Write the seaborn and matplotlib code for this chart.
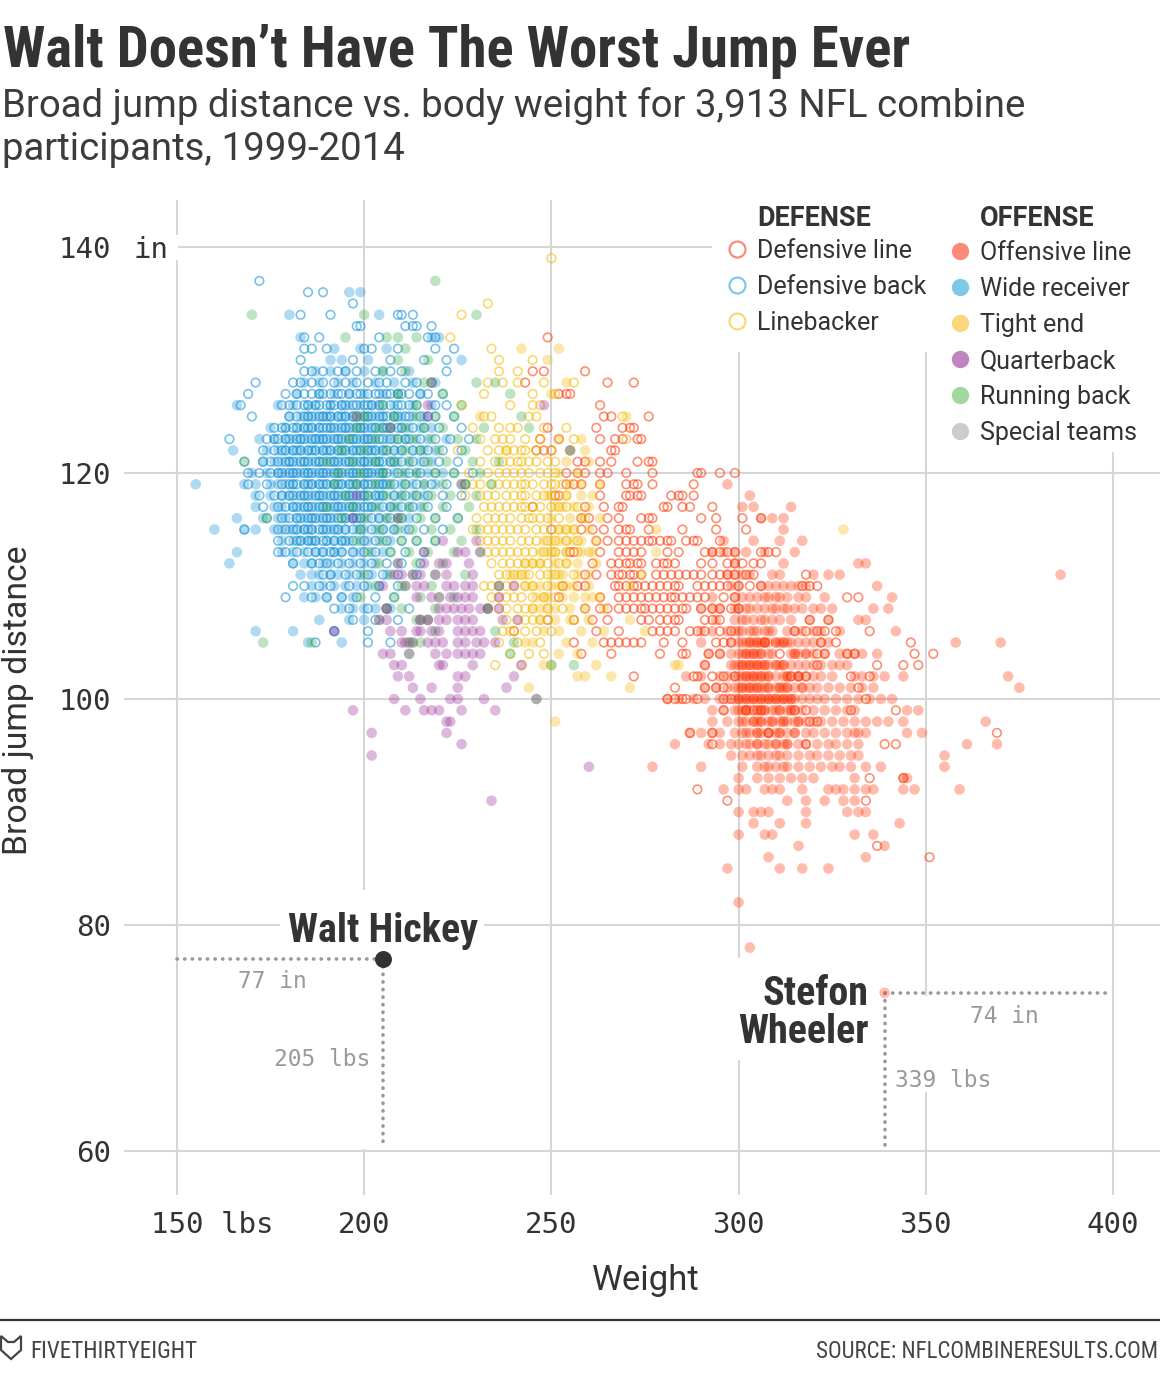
import matplotlib
matplotlib.use("Agg")
import matplotlib.pyplot as plt
import matplotlib.transforms as mtransforms
from matplotlib import font_manager
from matplotlib.lines import Line2D
from matplotlib.patches import Rectangle, Polygon
import pandas as pd
import seaborn as sns

# ---- data: broad jump (in) -> list of body weights (lbs) ----
defensive_back = {
    137: [172], 136: [185, 189], 135: [197], 134: [183, 191, 209, 210, 213],
    133: [198, 199, 211, 213, 214, 218], 132: [184, 188, 204, 217, 219],
    131: [184, 186, 190, 200, 202, 209, 219, 224], 130: [183, 197, 207, 216, 222],
    129: [184, 186, 189, 193, 195, 198, 203, 207, 210, 222],
    128: [171, 181, 183, 186, 189, 192, 195, 198, 201, 204, 206, 211, 214, 218],
    127: [169, 179, 182, 184, 186, 188, 189, 191, 193, 194, 196, 198, 199, 201, 203, 204, 206, 207, 209, 210, 212, 215, 217, 221],
    126: [167, 178, 180, 182, 184, 185, 187, 188, 190, 191, 192, 194, 195, 197, 198, 200, 201, 202, 204, 205, 207, 209, 210, 212, 214, 219, 222],
    125: [170, 180, 182, 184, 185, 186, 188, 189, 190, 191, 193, 194, 195, 197, 198, 200, 201, 202, 204, 205, 206, 208, 209, 211, 212, 215, 217, 219, 224],
    124: [176, 178, 179, 181, 182, 184, 185, 186, 188, 189, 190, 191, 192, 194, 195, 196, 198, 199, 200, 202, 203, 205, 206, 207, 209, 210, 213, 216, 220, 226],
    123: [164, 174, 176, 177, 179, 180, 182, 183, 184, 186, 187, 188, 189, 190, 192, 193, 194, 196, 197, 198, 200, 201, 202, 204, 205, 207, 209, 211, 212, 215, 219, 223, 228],
    122: [173, 176, 178, 179, 181, 182, 183, 185, 186, 187, 189, 190, 191, 193, 194, 195, 197, 198, 199, 201, 202, 203, 205, 206, 208, 210, 213, 215, 217, 221, 226],
    121: [168, 173, 175, 177, 179, 180, 181, 183, 184, 185, 187, 188, 189, 191, 192, 193, 195, 196, 197, 199, 200, 201, 203, 204, 205, 207, 208, 210, 213, 216, 220, 225],
    120: [169, 172, 175, 177, 178, 180, 181, 182, 184, 185, 186, 188, 189, 190, 192, 193, 194, 196, 197, 198, 200, 201, 202, 204, 205, 206, 209, 212, 215, 219, 224, 229],
    119: [169, 174, 178, 180, 181, 182, 184, 185, 186, 188, 189, 190, 192, 193, 194, 196, 197, 198, 200, 201, 202, 204, 205, 206, 208, 211, 214, 218, 222, 227],
    118: [172, 176, 178, 180, 181, 183, 184, 185, 187, 188, 189, 191, 192, 193, 195, 196, 197, 199, 200, 201, 203, 204, 205, 208, 211, 214, 217, 221, 226],
    117: [173, 177, 179, 181, 182, 184, 185, 186, 188, 189, 190, 192, 193, 194, 196, 197, 198, 200, 201, 202, 205, 207, 210, 213, 217, 222],
    116: [174, 178, 180, 182, 183, 185, 186, 187, 189, 190, 191, 193, 194, 195, 197, 198, 199, 202, 204, 207, 210, 214, 219, 225],
    115: [168, 177, 179, 181, 182, 184, 185, 186, 188, 189, 190, 192, 193, 195, 197, 199, 202, 205, 208, 212, 216, 221],
    114: [177, 180, 182, 183, 185, 186, 187, 189, 190, 192, 194, 195, 197, 200, 203, 206, 210, 214, 219],
    113: [177, 179, 182, 185, 187, 189, 191, 192, 194, 197, 200, 203, 207, 211, 216],
    112: [181, 186, 188, 190, 193, 196, 199, 202, 206, 210, 215],
    111: [189, 191, 195, 198, 201, 205, 209, 214], 110: [181, 184, 188, 191, 196, 200, 204, 209],
    109: [179, 186, 190, 194, 198, 203, 208], 108: [192, 196, 201, 206, 212],
    107: [197, 203, 209], 106: [192, 201], 105: [187, 201, 207],
}
wide_receiver = {
    136: [196, 199], 134: [180, 204], 132: [183, 218, 220], 131: [192, 199, 206],
    130: [191, 194, 201, 226], 129: [187, 191, 195, 200, 205, 212],
    128: [184, 188, 193, 197, 203, 208, 213, 219], 127: [182, 188, 192, 196, 200, 205, 209, 215],
    126: [166, 177, 181, 185, 187, 191, 194, 196, 199, 202, 204, 208, 213, 218],
    125: [180, 183, 185, 187, 189, 191, 193, 195, 197, 199, 201, 203, 205, 208, 210, 213, 216],
    124: [175, 179, 182, 184, 186, 188, 191, 193, 195, 197, 199, 201, 203, 205, 207, 210, 212, 215, 218],
    123: [172, 176, 179, 181, 183, 185, 187, 189, 191, 193, 195, 197, 199, 201, 203, 206, 208, 211, 214, 217, 222],
    122: [165, 174, 177, 179, 181, 183, 185, 187, 189, 191, 193, 195, 197, 199, 201, 203, 205, 208, 210, 213, 216, 219],
    121: [173, 176, 178, 180, 182, 184, 186, 188, 190, 192, 194, 196, 198, 200, 202, 204, 207, 209, 212, 215, 218],
    120: [170, 174, 177, 179, 181, 183, 185, 187, 189, 191, 193, 195, 197, 199, 201, 203, 205, 208, 211, 214, 217, 221],
    119: [155, 168, 171, 175, 177, 179, 181, 184, 186, 188, 190, 192, 194, 196, 198, 200, 203, 205, 207, 210, 213, 216, 219],
    118: [171, 175, 178, 180, 182, 184, 186, 188, 190, 192, 194, 196, 198, 200, 203, 205, 208, 210, 213, 216],
    117: [171, 176, 178, 181, 183, 185, 187, 189, 191, 193, 195, 197, 199, 202, 204, 207, 209, 212, 215],
    116: [166, 173, 177, 179, 182, 184, 186, 188, 190, 192, 195, 197, 199, 201, 204, 206, 209, 212],
    115: [160, 168, 171, 176, 178, 180, 182, 184, 186, 189, 191, 193, 195, 198, 200, 203, 205, 208, 211],
    114: [178, 181, 183, 185, 187, 190, 192, 194, 196, 199, 201, 204, 207],
    113: [166, 178, 181, 184, 187, 189, 192, 194, 197, 199, 202, 205],
    112: [164, 181, 184, 186, 189, 191, 194, 197, 200, 203], 111: [183, 186, 188, 191, 193, 196, 199, 202, 206],
    110: [186, 189, 192, 195, 198, 201, 204], 109: [184, 187, 190, 194, 197], 108: [194, 197, 200, 203, 207],
    107: [188, 196, 200], 106: [171, 181, 192], 105: [185, 194],
}
running_back = {
    137: [219], 134: [170, 200, 230], 132: [195, 206, 209, 214], 131: [211], 130: [209, 217],
    129: [205, 211], 128: [216, 230, 235], 127: [209, 221, 239], 126: [205, 214, 226],
    125: [200, 208, 214, 219, 224, 242], 124: [198, 204, 211, 216, 221, 232, 244],
    123: [196, 203, 209, 213, 218, 225, 230], 122: [194, 200, 206, 211, 215, 220, 227],
    121: [168, 190, 197, 203, 208, 212, 217, 222, 229, 236],
    120: [193, 199, 205, 210, 214, 219, 224, 231],
    119: [192, 198, 203, 207, 211, 216, 221, 227, 234],
    118: [195, 201, 206, 210, 214, 218, 223, 230],
    117: [190, 197, 203, 208, 212, 216, 221, 228],
    116: [174, 194, 200, 206, 210, 215, 219, 225],
    115: [199, 204, 209, 213, 218, 223, 230], 114: [198, 205, 210, 214, 219, 226],
    113: [201, 207, 212, 217, 224], 112: [204, 209, 214, 221], 111: [200, 207, 213, 219, 227],
    110: [203, 210, 218], 109: [199, 208, 215, 224], 108: [210, 219, 233], 107: [204, 214],
    106: [219, 235], 105: [173, 186, 215, 240], 104: [239], 103: [250, 256],
}
quarterback = {
    126: [217, 248], 125: [217], 118: [198], 116: [197], 114: [221, 230],
    113: [216, 225, 227], 112: [209, 216, 220, 222, 228],
    111: [208, 210, 213, 215, 219, 222, 229], 110: [205, 214, 216, 222, 224, 227, 229, 240],
    109: [214, 218, 223, 225, 227, 229, 236], 108: [206, 220, 222, 224, 226, 228, 231, 233, 236],
    107: [204, 206, 215, 217, 220, 222, 225, 227, 229, 237, 241],
    106: [192, 207, 210, 214, 215, 218, 220, 225, 227, 229, 231],
    105: [210, 211, 217, 219, 221, 225, 227, 230, 232, 235],
    104: [205, 207, 219, 222, 225, 227, 229, 231], 103: [208, 210, 220, 221, 229, 242],
    102: [209, 212, 225, 227, 240], 101: [213, 218, 225, 238], 100: [208, 215, 223, 225, 232],
    99: [197, 211, 216, 218, 220, 226, 235], 98: [222, 223], 97: [202, 222], 96: [226],
    95: [202], 94: [260], 91: [234],
}
linebacker = {
    139: [250], 135: [233], 134: [226], 132: [223], 131: [234], 130: [236, 245],
    129: [236, 241], 128: [233, 237, 241, 248, 256], 127: [232, 245, 251],
    126: [226, 239, 245, 247], 125: [232, 234, 244, 246, 269], 124: [229, 236, 239, 241, 248, 254],
    123: [231, 235, 237, 239, 243, 247, 256, 270], 122: [225, 233, 236, 238, 240, 242, 243, 246, 250],
    121: [231, 235, 237, 239, 241, 242, 244, 246, 249, 251], 120: [228, 233, 236, 238, 240, 242, 244, 247, 249, 251],
    119: [227, 229, 231, 234, 236, 238, 240, 242, 243, 245, 248, 250, 251, 253],
    118: [227, 231, 233, 235, 238, 240, 242, 243, 246, 248, 250, 251, 254],
    117: [232, 234, 236, 238, 240, 242, 243, 245, 247, 250, 252, 254, 257],
    116: [230, 233, 235, 237, 239, 242, 244, 245, 247, 249, 252, 259],
    115: [229, 231, 233, 235, 237, 239, 241, 243, 246, 248, 250, 252, 254, 256],
    114: [231, 233, 235, 237, 239, 242, 244, 246, 249, 251, 254, 257],
    113: [233, 235, 237, 239, 241, 243, 245, 248, 250, 251, 254, 257],
    112: [234, 237, 239, 241, 243, 245, 247, 249, 252, 254], 111: [236, 238, 240, 242, 244, 247, 249, 251, 256],
    110: [232, 234, 236, 238, 240, 243, 245, 249, 253], 109: [234, 236, 238, 240, 242, 245, 248, 251],
    108: [236, 238, 241, 243, 245, 249, 253], 107: [238, 241, 243, 245, 247, 249, 256],
    106: [237, 239, 240, 243, 246, 250], 105: [236, 241, 247], 104: [239, 244, 248], 103: [235, 242],
}
tight_end = {
    131: [242, 252], 130: [249], 128: [254], 127: [250], 125: [231, 270], 123: [252, 258],
    122: [238, 255, 259], 121: [254, 260], 120: [252, 257], 119: [255, 258, 263], 118: [249, 254, 258, 261],
    117: [251, 253, 256, 260], 116: [250, 255, 258, 263],
    115: [252, 254, 256, 260, 278, 328], 114: [248, 250, 252, 254, 256, 258, 262],
    113: [247, 249, 251, 254, 258, 260, 261, 278], 112: [243, 245, 247, 251, 254, 257, 262],
    111: [239, 241, 243, 250, 252, 253, 257, 260, 274], 110: [243, 245, 247, 250, 252, 254, 256, 260, 271],
    109: [246, 248, 249, 253, 256, 259, 261, 263], 108: [245, 247, 249, 251, 255, 259, 264],
    107: [247, 251, 255, 260, 271], 106: [248, 252, 258, 264, 275], 105: [243, 245, 254, 261],
    104: [252, 257], 103: [248, 250, 262, 283, 284],
    102: [257, 259, 266], 101: [244, 271], 98: [251],
}
defensive_line = {
    132: [249], 129: [245, 248, 259], 128: [243, 265, 272], 127: [252, 254, 255], 126: [263],
    125: [264, 266, 276], 124: [249, 262, 269, 271, 272], 123: [247, 252, 263, 267, 269, 273, 274],
    122: [246, 248, 250, 266, 267], 121: [257, 259, 263, 266, 273, 276, 277],
    120: [254, 257, 259, 263, 265, 270, 277, 289, 290, 295, 299],
    119: [254, 256, 258, 263, 270, 272, 273, 277, 288],
    118: [251, 252, 263, 270, 271, 273, 274, 282, 284, 285, 288],
    117: [245, 259, 264, 268, 269, 280, 281, 285, 287, 293],
    116: [258, 260, 265, 268, 274, 276, 277, 290, 294, 301, 306],
    115: [250, 258, 261, 264, 268, 270, 271, 276, 285, 294, 302],
    114: [262, 265, 268, 270, 272, 274, 276, 277, 279, 281, 282, 286, 288, 289, 295],
    113: [255, 256, 263, 268, 270, 272, 274, 281, 284, 291, 293, 295, 297, 299, 306, 308, 310],
    112: [261, 266, 268, 270, 271, 273, 274, 278, 280, 281, 283, 290, 293, 297, 299, 301, 304, 306],
    111: [259, 262, 266, 268, 269, 271, 272, 274, 278, 280, 282, 284, 286, 288, 290, 293, 295, 297, 299, 302, 304, 318],
    110: [253, 257, 259, 267, 268, 270, 272, 273, 275, 277, 279, 281, 283, 284, 289, 291, 293, 295, 297, 300, 303, 306, 317, 319, 321],
    109: [252, 263, 268, 270, 272, 274, 276, 278, 280, 282, 283, 285, 287, 289, 291, 296, 299, 329, 332],
    108: [259, 263, 265, 268, 270, 272, 274, 275, 277, 279, 281, 283, 285, 286, 290, 293, 295, 298, 300],
    107: [249, 256, 261, 265, 274, 276, 279, 281, 283, 284, 291, 293, 295, 319, 324],
    106: [240, 262, 268, 277, 279, 281, 283, 287, 289, 291, 295, 298, 315, 318, 321, 323, 326, 335],
    105: [256, 264, 266, 268, 270, 272, 274, 280, 285, 294, 296, 298, 307, 322, 326, 346],
    104: [258, 266, 279, 285, 286, 292, 295, 311, 321, 323, 329, 331, 347, 352],
    103: [291, 321, 337, 344, 348], 102: [272, 288, 289, 293, 296, 299, 314, 316, 318, 330, 335],
    101: [283, 291, 294, 296, 332], 100: [281, 283, 285, 286, 289, 296, 298, 334],
    99: [296, 302, 304, 306, 315, 318, 330, 342], 98: [319, 321], 97: [287, 293, 308, 369],
    96: [293, 318, 339, 342], 93: [335, 344], 92: [289], 91: [297, 334], 87: [337], 86: [351],
}
offensive_line = {
    119: [297], 118: [303], 117: [301, 304, 314], 116: [306, 309, 312], 115: [312],
    114: [296, 304, 311, 317], 113: [293, 296, 299, 302, 307, 315], 112: [299, 312, 332, 334],
    111: [297, 299, 301, 303, 309, 311, 320, 324, 327, 386],
    110: [298, 300, 306, 308, 310, 312, 314, 316, 318, 337],
    109: [293, 299, 301, 303, 305, 307, 308, 310, 311, 313, 316, 318, 323, 341],
    108: [290, 293, 295, 299, 300, 302, 303, 305, 307, 309, 310, 312, 313, 315, 317, 320, 322, 325, 336, 340],
    107: [294, 299, 301, 302, 304, 306, 307, 309, 311, 314, 319, 324, 332, 334],
    106: [290, 293, 297, 299, 300, 301, 303, 304, 305, 307, 308, 309, 313, 315, 317, 320, 322, 327, 342],
    105: [290, 298, 300, 301, 302, 303, 304, 305, 306, 307, 308, 310, 311, 312, 313, 314, 316, 318, 320, 322, 324, 358, 370,
          303, 305, 307, 310, 312],
    104: [292, 295, 298, 300, 301, 302, 303, 304, 305, 306, 308, 309, 314, 315, 316, 318, 320, 323, 327, 329, 331, 333, 337,
          302, 304, 306, 315, 318],
    103: [291, 298, 299, 300, 301, 302, 303, 304, 305, 306, 307, 308, 310, 311, 312, 314, 316, 318, 320, 322, 325, 327, 329,
          301, 303, 305, 307, 310, 312],
    102: [286, 290, 295, 297, 299, 300, 301, 302, 303, 304, 305, 306, 307, 308, 310, 312, 313, 314, 316, 318, 320, 322, 325, 331,
          333, 336, 339, 344, 372, 302, 304, 306, 308, 313, 316],
    101: [291, 294, 297, 299, 300, 301, 302, 303, 304, 305, 306, 307, 308, 310, 311, 312, 313, 315, 317, 319, 321, 324, 327, 330,
          333, 336, 375, 301, 303, 305, 308, 311, 313, 317],
    100: [281, 284, 288, 291, 295, 297, 299, 300, 301, 302, 303, 304, 305, 306, 307, 308, 309, 310, 311, 312, 313, 314, 315, 317,
          319, 321, 323, 326, 329, 332, 335, 338, 341, 300, 302, 304, 306, 308, 310, 312, 314],
    99: [293, 296, 299, 300, 301, 302, 303, 305, 306, 307, 309, 310, 311, 313, 314, 315, 317, 320, 323, 326, 329, 331, 345, 348,
         302, 305, 307, 311, 314],
    98: [293, 297, 300, 301, 302, 304, 305, 306, 308, 309, 311, 312, 313, 315, 316, 318, 320, 322, 325, 328, 331, 334, 337, 340,
         344, 366, 304, 306, 309, 312, 316],
    97: [287, 290, 293, 295, 299, 301, 302, 303, 305, 306, 308, 310, 311, 313, 315, 318, 320, 323, 326, 329, 331, 332, 334, 345,
         349, 305, 308, 311, 315],
    96: [283, 292, 295, 298, 300, 302, 303, 305, 307, 308, 310, 312, 313, 316, 318, 321, 324, 326, 329, 332, 361, 369,
         305, 310, 313],
    95: [298, 301, 303, 305, 306, 308, 310, 311, 313, 316, 319, 321, 324, 327, 330, 332, 355],
    94: [277, 290, 301, 305, 307, 308, 310, 312, 313, 316, 319, 322, 325, 327, 330, 334, 338, 355],
    93: [300, 305, 308, 311, 314, 317, 320, 331, 344, 345],
    92: [296, 300, 302, 307, 309, 311, 317, 324, 326, 328, 331, 334, 336, 344, 347, 359],
    91: [313, 318, 323, 328, 331], 90: [300, 304, 306, 308, 318, 329, 332, 334],
    89: [304, 311, 318, 343], 88: [300, 307, 309, 331, 336], 87: [316, 339], 86: [308, 334],
    85: [297, 311, 317, 324], 82: [300], 78: [303],
}
special_teams = {
    128: [218], 125: [198], 124: [207], 122: [255], 119: [226], 116: [209], 113: [231],
    110: [211, 236], 109: [220], 108: [206, 233], 107: [215, 217], 105: [212, 213],
    104: [212], 100: [246],
}

walt = (205, 77)
stefon = (339, 74)

x_ticks = [150, 200, 250, 300, 350, 400]
y_ticks = [60, 80, 100, 120, 140]

# name, data, color, hollow
positions = [
    ("Offensive line", offensive_line, "#ff3300", False),
    ("Defensive line", defensive_line, "#ff3300", True),
    ("Tight end", tight_end, "#f5b800", False),
    ("Linebacker", linebacker, "#f5b800", True),
    ("Wide receiver", wide_receiver, "#0f8fd6", False),
    ("Defensive back", defensive_back, "#0f8fd6", True),
    ("Running back", running_back, "#3caa46", False),
    ("Quarterback", quarterback, "#962896", False),
    ("Special teams", special_teams, "#777777", False),
]

rows = []
for name, data, _, _ in positions:
    for jump, weights in data.items():
        for w in weights:
            rows.append({"position": name, "weight": w, "jump": jump})
df = pd.DataFrame(rows)

sns.set_style("white")
names = {f.name for f in font_manager.fontManager.ttflist}
sans = "Roboto" if "Roboto" in names else "DejaVu Sans"
narrow = next((n for n in ["Roboto Condensed", "Liberation Sans Narrow"] if n in names), sans)
mono = "DejaVu Sans Mono"
plt.rcParams["font.family"] = [sans, "DejaVu Sans"]

W, H = 1160, 1376
fig = plt.figure(figsize=(W / 100, H / 100), dpi=100)
ax = fig.add_axes([124 / W, 1 - 1195 / H, 1 - 124 / W, (1195 - 200) / H])
renderer = fig.canvas.get_renderer()


def fx(px):
    return px / W


def fy(py):
    return 1 - py / H


def fit(t, target, vertical=False):
    bb = t.get_window_extent(renderer=renderer)
    cur = bb.height if vertical else bb.width
    t.set_fontsize(t.get_fontsize() * target / cur)
    return t


def mask_px(x0, y0, x1, y1):
    ax.add_patch(Rectangle((fx(x0), fy(y1)), fx(x1) - fx(x0), fy(y0) - fy(y1),
                           transform=fig.transFigure, facecolor="white",
                           edgecolor="none", zorder=1, clip_on=False))


for name, data, color, hollow in positions:
    sub = df[df["position"] == name]
    if hollow:
        sns.scatterplot(data=sub, x="weight", y="jump", ax=ax, color=color,
                        facecolor="none", edgecolor=color, linewidth=1.2,
                        s=38, alpha=0.55, zorder=3, legend=False)
    else:
        sns.scatterplot(data=sub, x="weight", y="jump", ax=ax, color=color,
                        edgecolor="none", linewidth=0, s=58,
                        alpha=0.6 if name == "Special teams" else 0.33,
                        zorder=3, legend=False)

ax.set_xlim(135.844, 412.553)
ax.set_ylim(56.106, 144.159)
ax.set_xticks(x_ticks)
ax.set_yticks(y_ticks)
ax.tick_params(length=0, labelbottom=False, labelleft=False)
ax.grid(True, color="#d6d6d6", linewidth=1.5)
ax.set_axisbelow(True)
for sp in ax.spines.values():
    sp.set_visible(False)
ax.set(xlabel="", ylabel="")

# white areas hiding grid under legend and labels
mask_px(712, 195, 942, 352)
mask_px(942, 195, 1165, 452)
mask_px(115, 235, 178, 260)
mask_px(280, 890, 484, 955)
mask_px(358, 955, 370, 1149)
mask_px(728, 958, 874, 1060)
mask_px(916, 996, 934, 1092)

# tick labels
ytrans = mtransforms.offset_copy(
    mtransforms.blended_transform_factory(fig.transFigure, ax.transData), fig=fig, y=-11, units="dots")
for v in y_ticks:
    ax.text(fx(111), v, str(v), transform=ytrans, ha="right", va="baseline",
            family=mono, fontsize=21, color="#333333", zorder=4)
ax.text(fx(134), 140, "in", transform=ytrans, ha="left", va="baseline",
        family=mono, fontsize=21, color="#333333", zorder=4)
xtrans = mtransforms.blended_transform_factory(ax.transData, fig.transFigure)
for v in x_ticks:
    lab = "    150 lbs" if v == 150 else str(v)
    ax.text(v, fy(1233), lab, transform=xtrans, ha="center", va="baseline",
            family=mono, fontsize=21, color="#333333")

fit(fig.text(fx(18), fy(700), "Broad jump distance", rotation=90, ha="center",
             va="center", fontsize=23, color="#333333"), 310, vertical=True)
fit(fig.text(fx(646), fy(1290), "Weight", ha="center", va="baseline",
             fontsize=23, color="#333333"), 108)

# titles
fit(fig.text(fx(3), fy(67), "Walt Doesn\u2019t Have The Worst Jump Ever", ha="left",
             va="baseline", fontsize=34, weight="bold", family=[narrow, "DejaVu Sans"],
             color="#333333"), 907)
sub1 = fit(fig.text(fx(2), fy(117), "Broad jump distance vs. body weight for 3,913 NFL combine",
                    ha="left", va="baseline", fontsize=25, color="#3c3c3c"), 1025)
fig.text(fx(2), fy(160), "participants, 1999-2014", ha="left", va="baseline",
         fontsize=sub1.get_fontsize(), color="#3c3c3c")

# legend
h1 = fit(fig.text(fx(757), fy(226), "DEFENSE", ha="left", va="baseline",
                  fontsize=18, weight="bold", color="#333333"), 114)
fig.text(fx(980), fy(226), "OFFENSE", ha="left", va="baseline",
         fontsize=h1.get_fontsize(), weight="bold", color="#333333")
defense_leg = [("Defensive line", "#f98b7a"), ("Defensive back", "#7fc9ec"), ("Linebacker", "#fbd978")]
offense_leg = [("Offensive line", "#fb8b78"), ("Wide receiver", "#7ec8ea"), ("Tight end", "#fad87a"),
               ("Quarterback", "#c084c0"), ("Running back", "#a0d8a0"), ("Special teams", "#cccccc")]
for i, (lab, c) in enumerate(defense_leg):
    y = 249 + 36 * i
    fig.add_artist(Line2D([fx(737)], [fy(y)], marker="o", markersize=11.5, markerfacecolor="none",
                          markeredgecolor=c, markeredgewidth=1.6, linestyle="none"))
    fig.text(fx(757), fy(y + 9), lab, ha="left", va="baseline", fontsize=18, color="#333333")
for i, (lab, c) in enumerate(offense_leg):
    y = 251 + 36 * i
    fig.add_artist(Line2D([fx(960)], [fy(y)], marker="o", markersize=12.5, markerfacecolor=c,
                          markeredgecolor="none", linestyle="none"))
    fig.text(fx(980), fy(y + 9), lab, ha="left", va="baseline", fontsize=18, color="#333333")

# annotations
dots = dict(color="#999999", linewidth=2.6, linestyle=(0, (0.1, 2.0)),
            dash_capstyle="round", zorder=4)
ax.plot([150, walt[0]], [walt[1], walt[1]], **dots)
ax.plot([walt[0], walt[0]], [walt[1], 60.5], **dots)
ax.scatter([walt[0]], [walt[1]], s=125, color="#333333", zorder=6)
ax.plot([stefon[0], 398.5], [stefon[1], stefon[1]], **dots)
ax.plot([stefon[0], stefon[0]], [stefon[1], 60.5], **dots)
ax.scatter([stefon[0]], [stefon[1]], s=58, color="#ff3300", alpha=0.33, edgecolor="none", zorder=6)

fit(ax.text(walt[0], 78.5, "Walt Hickey", ha="center", va="baseline", weight="bold",
            family=[narrow, "DejaVu Sans"], fontsize=22, color="#333333", zorder=5), 190)
wh = fit(ax.text(334.6, 69.6, "Wheeler", ha="right", va="baseline", weight="bold",
                 family=[narrow, "DejaVu Sans"], fontsize=22, color="#333333", zorder=5), 131)
ax.text(334.6, 72.9, "Stefon", ha="right", va="baseline", weight="bold",
        family=[narrow, "DejaVu Sans"], fontsize=wh.get_fontsize(), color="#333333", zorder=5)

grey = dict(family=mono, fontsize=16.5, color="#999999", va="baseline", zorder=5)
ax.text(175.4, 74.4, "77 in", ha="center", **grey)
ax.text(201.5, 67.5, "205 lbs", ha="right", **grey)
ax.text(370.9, 71.3, "74 in", ha="center", **grey)
ax.text(341.8, 65.7, "339 lbs", ha="left", **grey)

# footer
fig.add_artist(Line2D([0, 1], [fy(1320), fy(1320)], color="#333333", linewidth=1.6))
fig.add_artist(Polygon([(fx(1), fy(1336)), (fx(8), fy(1342)), (fx(14), fy(1342)), (fx(21), fy(1336)),
                        (fx(21), fy(1350)), (fx(11), fy(1359)), (fx(1), fy(1350))],
                       closed=True, fill=False, edgecolor="#444444", linewidth=1.6))
fit(fig.text(fx(30), fy(1358), "FIVETHIRTYEIGHT", ha="left", va="baseline",
             family=[narrow, "DejaVu Sans"], fontsize=16, color="#444444"), 166)
fit(fig.text(fx(1158), fy(1358), "SOURCE: NFLCOMBINERESULTS.COM", ha="right", va="baseline",
             family=[narrow, "DejaVu Sans"], fontsize=16, color="#444444"), 343)

fig.savefig("out.png", dpi=100, facecolor="white")
